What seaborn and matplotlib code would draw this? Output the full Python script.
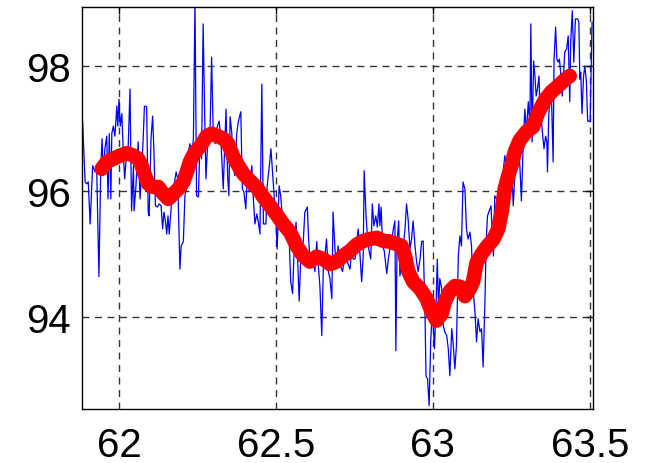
import numpy as np
import pandas as pd
import matplotlib
matplotlib.use("Agg")
import matplotlib.pyplot as plt
import seaborn as sns

# noisy raw signal (blue)
raw_x = [
    61.884, 61.892, 61.897, 61.902, 61.908, 61.916, 61.924, 61.929, 61.936, 61.942,
    61.946, 61.950, 61.955, 61.961, 61.965, 61.969, 61.974, 61.977, 61.982, 61.987,
    61.993, 61.996, 62.000, 62.004, 62.009, 62.014, 62.018, 62.022, 62.028, 62.035,
    62.040, 62.046, 62.048, 62.054, 62.061, 62.067, 62.072, 62.077, 62.081, 62.088,
    62.093, 62.096, 62.102, 62.107, 62.111, 62.116, 62.122, 62.128, 62.134, 62.139,
    62.143, 62.147, 62.152, 62.156, 62.160, 62.165, 62.169, 62.175, 62.182, 62.187,
    62.194, 62.198, 62.205, 62.210, 62.216, 62.221, 62.226, 62.232, 62.237, 62.242,
    62.247, 62.253, 62.258, 62.263, 62.268, 62.273, 62.277, 62.282, 62.290, 62.295,
    62.300, 62.306, 62.311, 62.319, 62.324, 62.332, 62.341, 62.346, 62.350, 62.354,
    62.359, 62.364, 62.369, 62.375, 62.380, 62.388, 62.393, 62.398, 62.404, 62.409,
    62.415, 62.423, 62.428, 62.433, 62.439, 62.444, 62.449, 62.455, 62.460, 62.468,
    62.472, 62.479, 62.484, 62.489, 62.494, 62.500, 62.504, 62.510, 62.515, 62.521,
    62.528, 62.532, 62.537, 62.542, 62.547, 62.553, 62.558, 62.564, 62.569, 62.574,
    62.580, 62.587, 62.592, 62.600, 62.604, 62.608, 62.614, 62.619, 62.624, 62.630,
    62.635, 62.640, 62.646, 62.651, 62.656, 62.661, 62.667, 62.672, 62.678, 62.682,
    62.688, 62.693, 62.698, 62.706, 62.712, 62.720, 62.725, 62.730, 62.736, 62.741,
    62.746, 62.752, 62.757, 62.762, 62.768, 62.773, 62.778, 62.781, 62.787, 62.792,
    62.797, 62.802, 62.807, 62.812, 62.818, 62.823, 62.828, 62.831, 62.835, 62.840,
    62.845, 62.853, 62.858, 62.863, 62.868, 62.874, 62.879, 62.882, 62.886, 62.891,
    62.895, 62.900, 62.905, 62.911, 62.916, 62.921, 62.927, 62.932, 62.937, 62.943,
    62.948, 62.953, 62.959, 62.964, 62.969, 62.975, 62.978, 62.983, 62.988, 62.993,
    62.997, 63.001, 63.005, 63.010, 63.014, 63.018, 63.022, 63.028, 63.033, 63.038,
    63.044, 63.049, 63.054, 63.060, 63.065, 63.070, 63.075, 63.081, 63.086, 63.091,
    63.096, 63.102, 63.107, 63.112, 63.118, 63.123, 63.128, 63.134, 63.139, 63.144,
    63.150, 63.155, 63.160, 63.166, 63.170, 63.174, 63.178, 63.185, 63.189, 63.193,
    63.197, 63.203, 63.208, 63.213, 63.219, 63.224, 63.229, 63.235, 63.240, 63.245,
    63.251, 63.256, 63.261, 63.267, 63.272, 63.277, 63.282, 63.288, 63.293, 63.298,
    63.304, 63.309, 63.312, 63.316, 63.321, 63.325, 63.329, 63.333, 63.338, 63.342,
    63.346, 63.350, 63.354, 63.359, 63.363, 63.365, 63.369, 63.374, 63.378, 63.383,
    63.386, 63.391, 63.395, 63.399, 63.403, 63.408, 63.412, 63.416, 63.420, 63.426,
    63.431, 63.436, 63.439, 63.444, 63.449, 63.454, 63.461, 63.465, 63.468, 63.471,
    63.475, 63.480, 63.484, 63.489, 63.493, 63.497, 63.501, 63.507,
]
raw_y = [
    97.11, 96.15, 96.12, 96.15, 95.48, 96.41, 96.31, 96.33, 94.64, 96.41,
    96.84, 96.25, 96.68, 96.88, 95.88, 96.92, 95.88, 96.92, 97.04, 96.88,
    97.36, 97.04, 97.47, 97.04, 97.24, 96.57, 96.20, 96.47, 96.52, 97.63,
    95.69, 96.41, 95.69, 96.09, 96.79, 95.88, 96.31, 96.84, 97.36, 97.35,
    95.67, 95.61, 96.84, 97.20, 96.68, 95.77, 95.75, 95.80, 95.77, 95.40,
    95.67, 95.56, 95.32, 95.61, 95.32, 95.67, 95.93, 96.09, 96.31, 96.20,
    94.76, 95.13, 95.20, 95.93, 96.09, 96.63, 96.76, 96.57, 96.84, 99.04,
    95.93, 95.91, 96.84, 96.52, 98.67, 97.20, 96.20, 96.73, 96.95, 98.14,
    96.95, 96.76, 97.00, 97.12, 96.88, 96.04, 97.31, 96.25, 95.93, 97.19,
    96.95, 96.41, 96.25, 96.92, 97.11, 97.27, 96.04, 95.99, 95.72, 96.31,
    95.99, 96.41, 95.88, 95.48, 95.64, 95.51, 95.32, 97.71, 95.48, 95.48,
    96.09, 96.41, 96.68, 96.31, 95.93, 95.51, 95.08, 96.09, 95.93, 95.56,
    95.56, 95.45, 95.40, 95.24, 94.56, 94.37, 95.08, 95.51, 94.92, 94.25,
    95.08, 95.20, 95.67, 95.75, 95.24, 94.97, 94.81, 94.92, 94.72, 95.20,
    94.81, 94.49, 93.70, 94.81, 94.97, 95.24, 94.72, 94.61, 94.29, 95.67,
    95.08, 94.81, 95.13, 94.81, 94.72, 94.97, 94.92, 94.84, 94.76, 95.04,
    94.92, 94.92, 95.20, 95.40, 94.97, 94.56, 94.97, 96.33, 95.61, 95.24,
    95.04, 94.92, 95.80, 95.45, 95.61, 95.43, 95.80, 95.45, 95.75, 95.13,
    95.05, 94.69, 94.92, 95.08, 95.20, 95.40, 95.53, 93.46, 95.20, 95.53,
    94.65, 94.92, 95.08, 95.40, 95.80, 95.56, 95.08, 95.24, 95.53, 95.13,
    94.88, 94.72, 94.92, 95.20, 95.21, 94.02, 93.06, 93.01, 92.58, 93.60,
    94.02, 93.86, 93.49, 94.18, 94.92, 94.13, 94.61, 94.45, 93.86, 93.76,
    93.70, 93.49, 93.06, 93.81, 93.54, 93.17, 93.54, 94.97, 95.29, 95.13,
    96.15, 96.04, 95.40, 95.24, 95.35, 95.13, 94.45, 94.08, 93.60, 93.97,
    93.76, 93.81, 93.20, 94.29, 95.24, 95.61, 95.67, 95.77, 95.35, 94.97,
    95.93, 95.88, 95.93, 96.12, 95.99, 96.31, 96.57, 96.41, 96.31, 96.09,
    96.36, 95.77, 96.25, 96.52, 96.68, 96.41, 95.85, 96.79, 97.31, 96.95,
    97.43, 97.04, 98.67, 96.79, 98.08, 97.84, 97.52, 97.63, 97.84, 97.16,
    97.11, 96.88, 96.68, 96.88, 96.79, 96.31, 97.20, 97.59, 97.47, 96.47,
    98.11, 98.62, 98.11, 98.06, 98.11, 97.84, 97.52, 97.84, 98.22, 98.27,
    98.48, 97.43, 98.38, 98.88, 98.06, 98.75, 98.75, 98.70, 97.79, 97.90,
    97.24, 97.84, 98.00, 97.75, 97.12, 97.12, 97.11, 98.70,
]

# smoothed trend (red)
smooth_x = [
    61.945, 61.961, 61.982, 62.003, 62.025, 62.046, 62.061, 62.072, 62.083, 62.093,
    62.109, 62.125, 62.141, 62.157, 62.173, 62.189, 62.205, 62.216, 62.226, 62.242,
    62.258, 62.268, 62.279, 62.295, 62.315, 62.332, 62.348, 62.364, 62.380, 62.396,
    62.417, 62.439, 62.460, 62.481, 62.502, 62.523, 62.545, 62.566, 62.587, 62.608,
    62.630, 62.651, 62.672, 62.693, 62.714, 62.736, 62.757, 62.778, 62.799, 62.821,
    62.842, 62.863, 62.884, 62.900, 62.911, 62.921, 62.937, 62.959, 62.980, 62.996,
    63.012, 63.028, 63.038, 63.054, 63.070, 63.086, 63.102, 63.118, 63.128, 63.139,
    63.155, 63.172, 63.192, 63.208, 63.219, 63.229, 63.240, 63.251, 63.261, 63.277,
    63.298, 63.319, 63.335, 63.357, 63.378, 63.399, 63.420, 63.436,
]
smooth_y = [
    96.36, 96.47, 96.52, 96.57, 96.61, 96.57, 96.52, 96.41, 96.25, 96.12,
    96.07, 96.07, 95.96, 95.88, 95.96, 96.04, 96.15, 96.31, 96.47, 96.63,
    96.71, 96.79, 96.88, 96.92, 96.88, 96.84, 96.76, 96.55, 96.41, 96.28,
    96.17, 96.06, 95.91, 95.77, 95.63, 95.48, 95.35, 95.13, 94.97, 94.88,
    94.96, 94.92, 94.84, 94.88, 94.97, 95.05, 95.15, 95.21, 95.24, 95.26,
    95.21, 95.20, 95.16, 95.13, 94.97, 94.73, 94.56, 94.45, 94.29, 94.08,
    93.94, 94.05, 94.24, 94.41, 94.49, 94.48, 94.33, 94.45, 94.56, 94.86,
    95.00, 95.12, 95.23, 95.40, 95.67, 96.04, 96.25, 96.42, 96.63, 96.82,
    96.95, 97.03, 97.25, 97.46, 97.59, 97.68, 97.78, 97.84,
]

x_ticks = [62, 62.5, 63, 63.5]
x_tick_labels = ["62", "62.5", "63", "63.5"]
y_ticks = [94, 96, 98]
y_tick_labels = ["94", "96", "98"]

raw_df = pd.DataFrame({"x": raw_x, "y": raw_y})
smooth_df = pd.DataFrame({"x": smooth_x, "y": smooth_y})

sns.set_style("white")
plt.rcParams["font.family"] = ["Liberation Sans", "DejaVu Sans"]

fig = plt.figure(figsize=(6.47, 4.64), dpi=100)
ax = fig.add_axes([0.1267, 0.1164, 0.7898, 0.8664])

sns.lineplot(data=raw_df, x="x", y="y", sort=False, estimator=None,
             color="#0000ff", linewidth=0.9, ax=ax)
sns.lineplot(data=smooth_df, x="x", y="y", sort=False, estimator=None,
             color="#ff0000", linewidth=10.5, solid_capstyle="round",
             solid_joinstyle="round", ax=ax)

ax.set_xlim(61.882, 63.51)
ax.set_ylim(92.53, 98.94)
ax.set_xticks(x_ticks)
ax.set_xticklabels(x_tick_labels)
ax.set_yticks(y_ticks)
ax.set_yticklabels(y_tick_labels)
ax.set_xlabel("")
ax.set_ylabel("")

ax.grid(True, color="#333333", linestyle=(0, (5, 4)), linewidth=1.0)
ax.set_axisbelow(True)
for s in ax.spines.values():
    s.set_color("black")
    s.set_linewidth(1.0)
ax.tick_params(axis="both", direction="in", length=5, width=1, color="black",
               labelcolor="black", top=True, right=True, labelsize=29)
ax.tick_params(axis="x", pad=12)
ax.tick_params(axis="y", pad=8)

fig.savefig("out.png", dpi=100)
